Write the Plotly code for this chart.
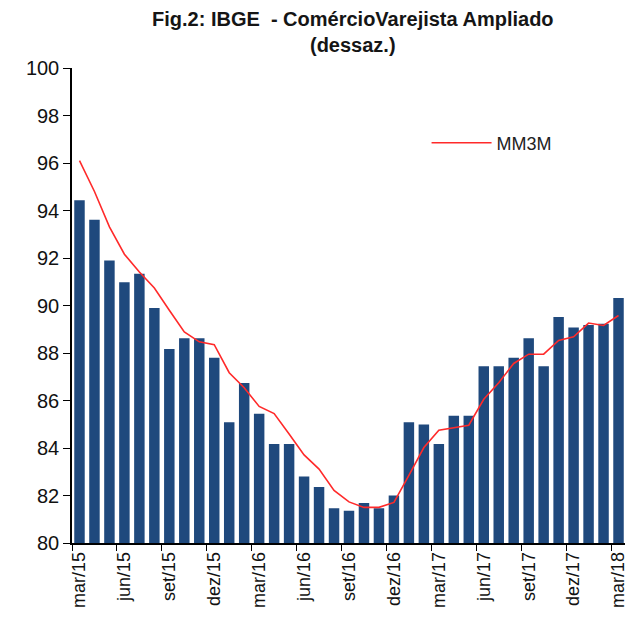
import plotly.graph_objects as go

months = ["mar/15","abr/15","mai/15","jun/15","jul/15","ago/15","set/15","out/15","nov/15","dez/15",
          "jan/16","fev/16","mar/16","abr/16","mai/16","jun/16","jul/16","ago/16","set/16","out/16",
          "nov/16","dez/16","jan/17","fev/17","mar/17","abr/17","mai/17","jun/17","jul/17","ago/17",
          "set/17","out/17","nov/17","dez/17","jan/18","fev/18","mar/18"]

varejo = [94.43, 93.61, 91.90, 90.98, 91.34, 89.89, 88.17, 88.62, 88.62, 87.80,
          85.08, 86.74, 85.44, 84.17, 84.17, 82.80, 82.36, 81.46, 81.36, 81.68,
          81.46, 82.00, 85.08, 84.99, 84.17, 85.36, 85.36, 87.44, 87.44, 87.80,
          88.62, 87.44, 89.52, 89.07, 89.18, 89.23, 90.32]

mm3m = [96.10, 94.80, 93.31, 92.16, 91.41, 90.74, 89.80, 88.89, 88.47, 88.35,
        87.17, 86.54, 85.75, 85.45, 84.59, 83.71, 83.11, 82.21, 81.73, 81.50,
        81.50, 81.71, 82.85, 84.02, 84.75, 84.84, 84.96, 86.05, 86.75, 87.56,
        87.95, 87.95, 88.53, 88.68, 89.26, 89.16, 89.58]

tick_labels = months[::3]
y_ticks = list(range(80, 101, 2))
title_lines = ["Fig.2: IBGE  - ComércioVarejista Ampliado", "(dessaz.)"]

fig = go.Figure()
fig.add_trace(go.Bar(x=months, y=varejo, marker=dict(color="#1F497D", line=dict(width=0)),
                     showlegend=False, name="Varejo"))
fig.add_trace(go.Scatter(x=months, y=mm3m, mode="lines", name="MM3M",
                         line=dict(color="#FF2A2A", width=1.6)))

fig.add_annotation(text="<b>" + "<br>".join(title_lines) + "</b>",
                   xref="paper", yref="paper", x=0.507, y=1.02,
                   xanchor="center", yanchor="bottom", showarrow=False,
                   font=dict(size=20, color="#151515", family="Liberation Sans, Arial, sans-serif"))

fig.update_layout(
    width=625, height=627,
    margin=dict(l=64, r=5, t=60, b=92),
    paper_bgcolor="white", plot_bgcolor="white",
    bargap=0.3,
    font=dict(family="Liberation Sans, Arial, sans-serif", color="#111111"),
    legend=dict(x=0.64, y=0.842, xanchor="left", yanchor="middle", itemwidth=60,
                bgcolor="rgba(0,0,0,0)", font=dict(size=18, color="#222222")),
    xaxis=dict(type="category", tickmode="array", tickvals=tick_labels, ticktext=tick_labels,
               tickangle=-90, tickson="boundaries", ticks="outside", ticklen=6,
               tickcolor="black", showline=True, linecolor="black", linewidth=1.5,
               showgrid=False, tickfont=dict(size=18, color="#111111")),
    yaxis=dict(range=[80, 100], tickvals=y_ticks, ticks="outside", ticklen=7,
               tickcolor="black", showline=True, linecolor="black", linewidth=1.5,
               showgrid=False, zeroline=False, tickfont=dict(size=20, color="#111111")),
)

fig.write_html("out.html")
